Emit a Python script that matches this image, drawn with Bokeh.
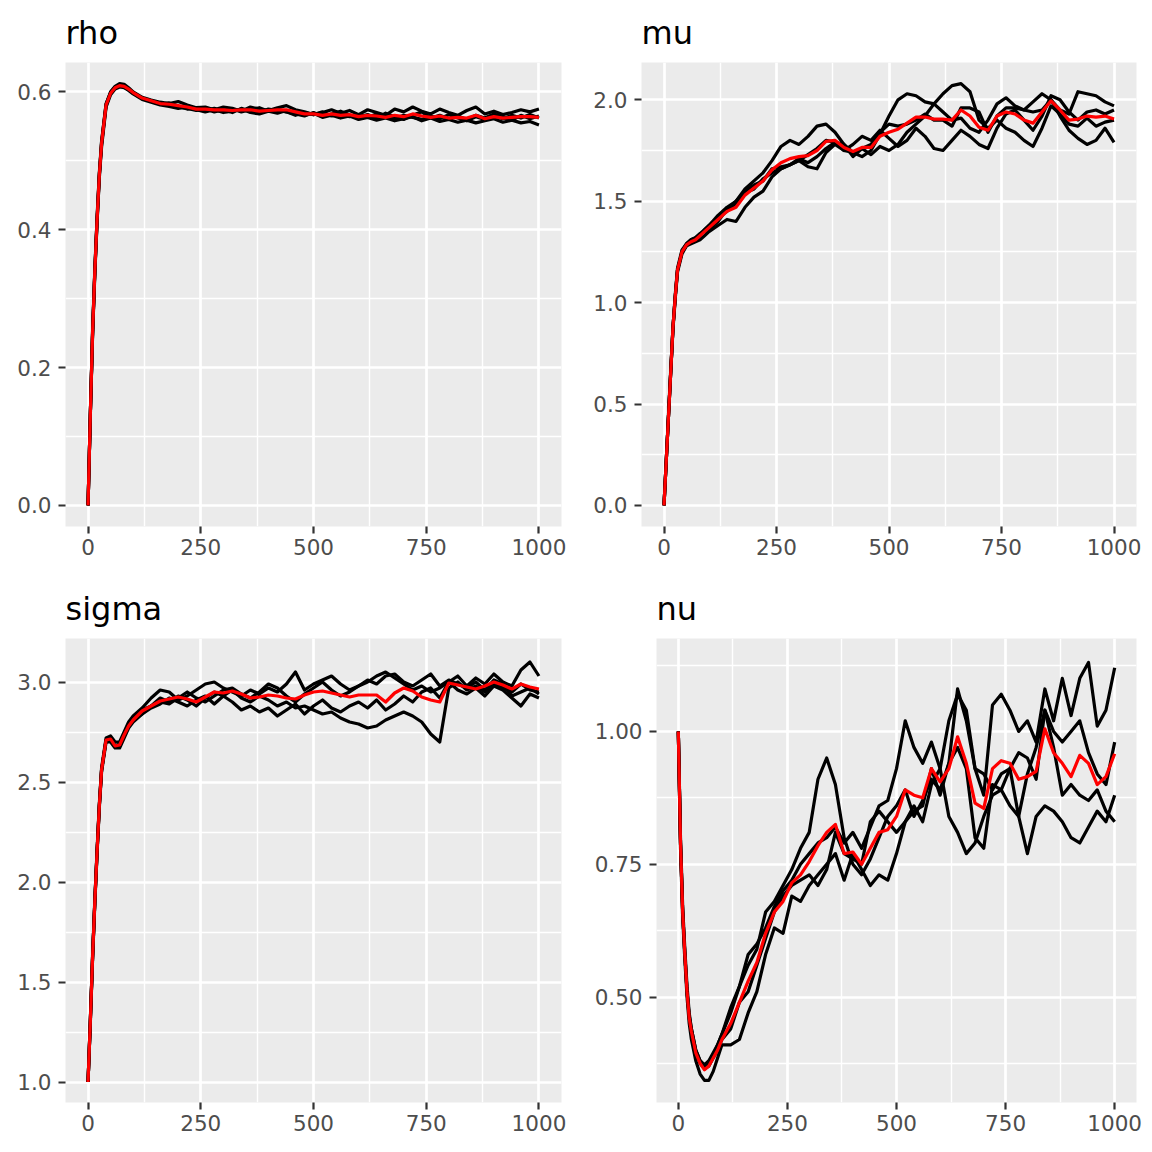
from bokeh.plotting import figure
from bokeh.layouts import column, row
from bokeh.models import Range1d, FixedTicker, NumeralTickFormatter, BasicTickFormatter
from bokeh.embed import file_html
from bokeh.resources import INLINE

iterations = [0, 5, 10, 15, 20, 25, 30, 40, 50, 60, 70, 80, 90, 100,
              120, 140, 160, 180, 200, 220, 240, 260, 280, 300, 320, 340, 360, 380, 400,
              420, 440, 460, 480, 500, 520, 540, 560, 580, 600, 620, 640, 660, 680, 700,
              720, 740, 760, 780, 800, 820, 840, 860, 880, 900, 920, 940, 960, 980, 1000]

# ---- rho ----
rho_chain1 = [0, 0.13, 0.25, 0.34, 0.415, 0.48, 0.527, 0.582, 0.600, 0.608, 0.612, 0.611, 0.606, 0.600,
              0.592, 0.588, 0.585, 0.583, 0.586, 0.581, 0.577, 0.578, 0.574, 0.578, 0.576, 0.572, 0.578, 0.575, 0.573,
              0.577, 0.580, 0.574, 0.571, 0.567, 0.570, 0.574, 0.569, 0.573, 0.567, 0.574, 0.570, 0.566, 0.575, 0.571,
              0.578, 0.572, 0.568, 0.575, 0.570, 0.566, 0.573, 0.578, 0.568, 0.572, 0.567, 0.570, 0.574, 0.571, 0.575]
rho_chain2 = [0, 0.128, 0.245, 0.335, 0.41, 0.475, 0.52, 0.578, 0.596, 0.604, 0.607, 0.606, 0.602, 0.597,
              0.589, 0.585, 0.581, 0.579, 0.576, 0.578, 0.574, 0.571, 0.574, 0.570, 0.572, 0.575, 0.570, 0.568, 0.572,
              0.569, 0.573, 0.570, 0.566, 0.569, 0.563, 0.566, 0.562, 0.565, 0.560, 0.563, 0.559, 0.562, 0.558, 0.561,
              0.564, 0.558, 0.562, 0.557, 0.560, 0.556, 0.559, 0.555, 0.558, 0.561, 0.556, 0.559, 0.555, 0.557, 0.552]
rho_chain3 = [0, 0.132, 0.252, 0.342, 0.418, 0.482, 0.528, 0.583, 0.599, 0.607, 0.610, 0.609, 0.604, 0.599,
              0.591, 0.586, 0.583, 0.580, 0.578, 0.576, 0.573, 0.575, 0.571, 0.574, 0.570, 0.576, 0.572, 0.570, 0.575,
              0.573, 0.571, 0.568, 0.565, 0.570, 0.564, 0.568, 0.572, 0.566, 0.563, 0.567, 0.562, 0.569, 0.564, 0.560,
              0.566, 0.571, 0.562, 0.566, 0.561, 0.565, 0.560, 0.566, 0.562, 0.568, 0.563, 0.559, 0.566, 0.561, 0.565]
rho_chain4 = [0, 0.13, 0.248, 0.338, 0.412, 0.478, 0.524, 0.58, 0.598, 0.606, 0.609, 0.607, 0.603, 0.598,
              0.590, 0.587, 0.582, 0.584, 0.579, 0.575, 0.577, 0.573, 0.576, 0.572, 0.575, 0.571, 0.574, 0.577, 0.572,
              0.575, 0.571, 0.566, 0.570, 0.567, 0.571, 0.565, 0.568, 0.564, 0.567, 0.563, 0.568, 0.565, 0.561, 0.566,
              0.563, 0.560, 0.565, 0.561, 0.567, 0.562, 0.558, 0.564, 0.560, 0.565, 0.561, 0.566, 0.562, 0.567, 0.562]
rho_mean = [0, 0.13, 0.249, 0.339, 0.414, 0.479, 0.525, 0.581, 0.598, 0.606, 0.609, 0.608, 0.604, 0.599,
            0.591, 0.587, 0.583, 0.582, 0.580, 0.578, 0.575, 0.575, 0.574, 0.574, 0.573, 0.574, 0.574, 0.572, 0.573,
            0.574, 0.574, 0.571, 0.568, 0.568, 0.566, 0.568, 0.566, 0.567, 0.564, 0.566, 0.565, 0.563, 0.566, 0.564,
            0.568, 0.565, 0.563, 0.565, 0.562, 0.563, 0.562, 0.566, 0.561, 0.564, 0.562, 0.563, 0.564, 0.564, 0.563]

# ---- mu ----
mu_chain1 = [0, 0.22, 0.44, 0.66, 0.88, 1.03, 1.16, 1.25, 1.29, 1.31, 1.32, 1.34, 1.35, 1.36,
             1.40, 1.46, 1.50, 1.56, 1.60, 1.64, 1.70, 1.77, 1.80, 1.78, 1.82, 1.87, 1.88, 1.84, 1.78,
             1.74, 1.72, 1.75, 1.83, 1.92, 2.00, 2.03, 2.02, 1.99, 1.98, 1.94, 1.90, 1.91, 1.86, 1.84,
             1.90, 1.98, 2.01, 1.97, 1.95, 1.99, 2.03, 2.00, 1.92, 1.85, 1.81, 1.78, 1.80, 1.86, 1.79]
mu_chain2 = [0, 0.22, 0.44, 0.66, 0.87, 1.02, 1.15, 1.24, 1.28, 1.29, 1.30, 1.31, 1.33, 1.35,
             1.38, 1.41, 1.40, 1.47, 1.52, 1.55, 1.62, 1.66, 1.68, 1.71, 1.69, 1.72, 1.76, 1.79, 1.78,
             1.72, 1.76, 1.73, 1.77, 1.75, 1.78, 1.84, 1.88, 1.92, 1.98, 2.03, 2.07, 2.08, 2.04, 1.90,
             1.86, 1.90, 1.86, 1.84, 1.80, 1.77, 1.86, 1.97, 1.93, 1.88, 1.87, 1.91, 1.87, 1.89, 1.90]
mu_chain3 = [0, 0.22, 0.45, 0.67, 0.88, 1.04, 1.17, 1.26, 1.29, 1.31, 1.32, 1.34, 1.36, 1.38,
             1.43, 1.47, 1.50, 1.55, 1.58, 1.60, 1.66, 1.67, 1.68, 1.70, 1.73, 1.76, 1.80, 1.79, 1.75,
             1.78, 1.82, 1.80, 1.85, 1.81, 1.77, 1.80, 1.86, 1.82, 1.76, 1.75, 1.80, 1.85, 1.82, 1.78,
             1.76, 1.86, 1.93, 1.95, 1.90, 1.85, 1.92, 2.02, 2.00, 1.94, 1.90, 1.94, 1.95, 1.93, 1.95]
mu_chain4 = [0, 0.22, 0.44, 0.66, 0.88, 1.03, 1.16, 1.25, 1.28, 1.30, 1.31, 1.33, 1.36, 1.38,
             1.42, 1.45, 1.49, 1.54, 1.56, 1.61, 1.64, 1.66, 1.68, 1.70, 1.67, 1.66, 1.74, 1.78, 1.75,
             1.74, 1.76, 1.78, 1.84, 1.88, 1.87, 1.88, 1.90, 1.93, 1.90, 1.90, 1.87, 1.96, 1.96, 1.94,
             1.84, 1.92, 1.96, 1.96, 1.95, 1.94, 1.95, 2.00, 1.95, 1.93, 2.04, 2.03, 2.02, 1.99, 1.97]
mu_mean = [0, 0.22, 0.44, 0.66, 0.88, 1.03, 1.16, 1.25, 1.285, 1.30, 1.31, 1.33, 1.35, 1.37,
           1.41, 1.45, 1.47, 1.53, 1.565, 1.60, 1.655, 1.69, 1.71, 1.72, 1.725, 1.75, 1.795, 1.80, 1.765,
           1.745, 1.765, 1.765, 1.82, 1.84, 1.855, 1.885, 1.915, 1.915, 1.905, 1.905, 1.90, 1.95, 1.92, 1.865,
           1.85, 1.92, 1.94, 1.93, 1.90, 1.885, 1.94, 1.995, 1.95, 1.90, 1.905, 1.92, 1.915, 1.92, 1.905]

# ---- sigma ----
sigma_chain1 = [1.0, 1.30, 1.62, 1.90, 2.15, 2.38, 2.56, 2.71, 2.72, 2.68, 2.68, 2.73, 2.78, 2.81,
                2.84, 2.88, 2.92, 2.90, 2.93, 2.91, 2.88, 2.92, 2.95, 2.93, 2.96, 2.92, 2.90, 2.93, 2.91,
                2.88, 2.90, 2.87, 2.88, 2.86, 2.84, 2.85, 2.82, 2.80, 2.79, 2.77, 2.78, 2.81, 2.83, 2.85,
                2.83, 2.80, 2.74, 2.70, 2.97, 3.00, 2.96, 2.98, 2.95, 2.99, 2.97, 2.95, 2.99, 2.96, 2.95]
sigma_chain2 = [1.0, 1.31, 1.63, 1.91, 2.16, 2.39, 2.57, 2.72, 2.73, 2.70, 2.70, 2.75, 2.80, 2.83,
                2.87, 2.92, 2.96, 2.95, 2.91, 2.93, 2.96, 2.99, 3.00, 2.97, 2.95, 2.93, 2.96, 2.94, 2.97,
                2.95, 2.99, 3.05, 2.96, 2.99, 3.01, 3.03, 2.99, 2.96, 2.98, 3.00, 3.03, 3.05, 3.02, 2.99,
                2.96, 2.98, 2.95, 2.97, 3.00, 3.03, 2.98, 3.02, 2.99, 3.04, 3.00, 2.98, 3.06, 3.10, 3.03]
sigma_chain3 = [1.0, 1.29, 1.61, 1.89, 2.14, 2.37, 2.55, 2.70, 2.70, 2.67, 2.67, 2.72, 2.77, 2.80,
                2.84, 2.87, 2.89, 2.92, 2.90, 2.88, 2.91, 2.93, 2.89, 2.93, 2.90, 2.86, 2.88, 2.85, 2.87,
                2.83, 2.86, 2.89, 2.84, 2.88, 2.91, 2.87, 2.85, 2.88, 2.90, 2.87, 2.91, 2.86, 2.89, 2.93,
                2.90, 2.95, 2.97, 2.92, 3.00, 2.96, 2.94, 2.97, 2.93, 2.98, 2.96, 2.92, 2.88, 2.94, 2.92]
sigma_chain4 = [1.0, 1.30, 1.62, 1.90, 2.15, 2.38, 2.56, 2.71, 2.71, 2.68, 2.69, 2.74, 2.78, 2.81,
                2.86, 2.88, 2.90, 2.89, 2.92, 2.95, 2.92, 2.90, 2.93, 2.96, 2.97, 2.94, 2.92, 2.95, 2.99,
                2.97, 2.93, 2.90, 2.94, 2.97, 3.00, 2.96, 2.93, 2.95, 2.98, 3.01, 2.99, 3.03, 3.04, 3.00,
                2.98, 3.01, 3.04, 2.98, 3.01, 2.99, 2.97, 3.00, 2.96, 3.01, 2.99, 2.93, 2.95, 2.97, 2.94]
sigma_mean = [1.0, 1.30, 1.62, 1.90, 2.15, 2.38, 2.56, 2.71, 2.715, 2.68, 2.685, 2.735, 2.78, 2.81,
              2.855, 2.88, 2.905, 2.915, 2.925, 2.915, 2.90, 2.925, 2.95, 2.945, 2.955, 2.94, 2.92, 2.925, 2.935,
              2.93, 2.92, 2.915, 2.935, 2.95, 2.955, 2.945, 2.935, 2.925, 2.935, 2.935, 2.935, 2.90, 2.945, 2.97,
              2.955, 2.925, 2.91, 2.90, 2.995, 2.985, 2.975, 2.965, 2.98, 3.00, 2.985, 2.965, 2.99, 2.975, 2.965]

# ---- nu ----
nu_chain1 = [1.0, 0.80, 0.67, 0.59, 0.52, 0.47, 0.44, 0.40, 0.38, 0.37, 0.375, 0.39, 0.41, 0.43,
             0.47, 0.52, 0.58, 0.60, 0.63, 0.67, 0.70, 0.72, 0.75, 0.77, 0.79, 0.80, 0.82, 0.79, 0.81,
             0.78, 0.82, 0.86, 0.87,
             0.93, 1.02, 0.97, 0.94, 0.98, 0.93, 0.84, 0.81, 0.77, 0.79, 0.84, 0.88, 0.89, 0.86, 0.84,
             0.77, 0.84, 0.86, 0.85, 0.83, 0.80, 0.79, 0.82, 0.85, 0.83, 0.88]
nu_chain2 = [1.0, 0.78, 0.65, 0.57, 0.50, 0.45, 0.42, 0.38, 0.355, 0.343, 0.343, 0.36, 0.385, 0.41,
             0.41, 0.42, 0.47, 0.51, 0.58, 0.63, 0.62, 0.69, 0.68, 0.71, 0.73, 0.75, 0.77, 0.72, 0.77,
             0.74, 0.71, 0.73, 0.72,
             0.77, 0.83, 0.86, 0.83, 0.90, 0.93, 1.02, 1.07, 1.04, 0.93, 0.88, 1.05, 1.07, 1.04, 1.00,
             1.02, 0.98, 1.08, 1.02, 1.10, 1.03, 1.10, 1.13, 1.01, 1.04, 1.12]
nu_chain3 = [1.0, 0.79, 0.66, 0.58, 0.51, 0.465, 0.44, 0.40, 0.38, 0.372, 0.38, 0.395, 0.41, 0.43,
             0.48, 0.52, 0.56, 0.59, 0.66, 0.68, 0.71, 0.74, 0.78, 0.81, 0.91, 0.95, 0.90, 0.80, 0.75,
             0.73, 0.76, 0.80, 0.84,
             0.86, 0.89, 0.84, 0.87, 0.91, 0.89, 0.94, 0.97, 0.93, 0.80, 0.78, 0.90, 0.89, 0.93, 0.96,
             0.95, 0.91, 1.04, 1.00, 0.98, 1.00, 1.02, 0.96, 0.92, 0.90, 0.98]
nu_chain4 = [1.0, 0.79, 0.66, 0.58, 0.51, 0.46, 0.435, 0.395, 0.375, 0.365, 0.37, 0.385, 0.40, 0.42,
             0.44, 0.49, 0.51, 0.56, 0.61, 0.66, 0.69, 0.71, 0.72, 0.73, 0.71, 0.74, 0.81, 0.77, 0.76,
             0.75, 0.83, 0.85, 0.83,
             0.81, 0.83, 0.85, 0.86, 0.93, 0.88, 0.94, 1.08, 1.02, 0.93, 0.92, 0.89, 0.92, 0.93, 0.84,
             0.92, 0.97, 1.04, 0.97, 0.88, 0.90, 0.88, 0.87, 0.89, 0.85, 0.83]
nu_mean = [1.0, 0.79, 0.66, 0.58, 0.51, 0.46, 0.435, 0.395, 0.375, 0.363, 0.37, 0.385, 0.40, 0.42,
           0.45, 0.49, 0.53, 0.565, 0.62, 0.66, 0.68, 0.715, 0.73, 0.755, 0.785, 0.81, 0.825, 0.77, 0.773,
           0.75, 0.78, 0.81, 0.815,
           0.84, 0.89, 0.88, 0.875, 0.93, 0.905, 0.93, 0.99, 0.94, 0.865, 0.855, 0.93, 0.945, 0.94, 0.91,
           0.915, 0.925, 1.005, 0.96, 0.94, 0.915, 0.955, 0.94, 0.90, 0.915, 0.958]

x_ticks = [0, 250, 500, 750, 1000]
x_minor = [125, 375, 625, 875]

rho_ticks, rho_minor = [0.0, 0.2, 0.4, 0.6], [0.1, 0.3, 0.5]
mu_ticks, mu_minor = [0.0, 0.5, 1.0, 1.5, 2.0], [0.25, 0.75, 1.25, 1.75]
sigma_ticks, sigma_minor = [1.0, 1.5, 2.0, 2.5, 3.0], [1.25, 1.75, 2.25, 2.75]
nu_ticks, nu_minor = [0.50, 0.75, 1.00], [0.375, 0.625, 0.875, 1.125]

for arr in [rho_chain1, rho_chain2, rho_chain3, rho_chain4, rho_mean,
            mu_chain1, mu_chain2, mu_chain3, mu_chain4, mu_mean,
            sigma_chain1, sigma_chain2, sigma_chain3, sigma_chain4, sigma_mean,
            nu_chain1, nu_chain2, nu_chain3, nu_chain4, nu_mean]:
    assert len(arr) == len(iterations), len(arr)

FONT = "DejaVu Sans"


def panel(name, chains, mean, yr, yt, ym, fmt, ml, mr, mt, mb):
    p = figure(width=576, height=576, output_backend="svg", toolbar_location=None,
               x_range=Range1d(-50, 1050), y_range=Range1d(*yr),
               min_border_left=ml, min_border_right=mr,
               min_border_top=mt, min_border_bottom=mb,
               background_fill_color="#EBEBEB", border_fill_color="white",
               outline_line_color=None, title=name)
    p.title.text_font = FONT
    p.title.text_font_size = "32px"
    p.title.text_font_style = "normal"
    p.title.text_color = "black"
    p.title.align = "left"
    p.title.standoff = 21

    xt = FixedTicker(ticks=x_ticks, minor_ticks=x_minor)
    ytk = FixedTicker(ticks=yt, minor_ticks=ym)
    p.xaxis.ticker = xt
    p.yaxis.ticker = ytk
    p.xgrid.ticker = xt
    p.ygrid.ticker = ytk
    p.xaxis.formatter = BasicTickFormatter()
    p.yaxis.formatter = NumeralTickFormatter(format=fmt)

    for ax in list(p.xaxis) + list(p.yaxis):
        ax.axis_line_color = None
        ax.major_tick_line_color = "#333333"
        ax.major_tick_line_width = 2.2
        ax.major_tick_out = 7
        ax.major_tick_in = 0
        ax.minor_tick_line_color = None
        ax.major_label_text_font = FONT
        ax.major_label_text_font_size = "21.5px"
        ax.major_label_text_color = "#4D4D4D"
    p.yaxis.major_label_standoff = 7
    p.xaxis.major_label_standoff = 5

    for g in list(p.xgrid) + list(p.ygrid):
        g.grid_line_color = "white"
        g.grid_line_width = 2.7
        g.minor_grid_line_color = "white"
        g.minor_grid_line_width = 1.4

    for c in chains:
        p.line(iterations, c, line_color="black", line_width=3.2, line_join="round")
    p.line(iterations, mean, line_color="#FF0000", line_width=3.2, line_join="round")
    return p


p1 = panel("rho", [rho_chain1, rho_chain2, rho_chain3, rho_chain4], rho_mean,
           (-0.0306, 0.6426), rho_ticks, rho_minor, "0.0", 65, 15, 62, 50)
p2 = panel("mu", [mu_chain1, mu_chain2, mu_chain3, mu_chain4], mu_mean,
           (-0.104, 2.184), mu_ticks, mu_minor, "0.0", 65, 16, 62, 50)
p3 = panel("sigma", [sigma_chain1, sigma_chain2, sigma_chain3, sigma_chain4], sigma_mean,
           (0.8975, 3.2175), sigma_ticks, sigma_minor, "0.0", 65, 15, 62, 50)
p4 = panel("nu", [nu_chain1, nu_chain2, nu_chain3, nu_chain4], nu_mean,
           (0.3014, 1.175), nu_ticks, nu_minor, "0.00", 80, 16, 62, 50)

layout = column(row(p1, p2), row(p3, p4))
open("out.html", "w").write(file_html(layout, INLINE))
